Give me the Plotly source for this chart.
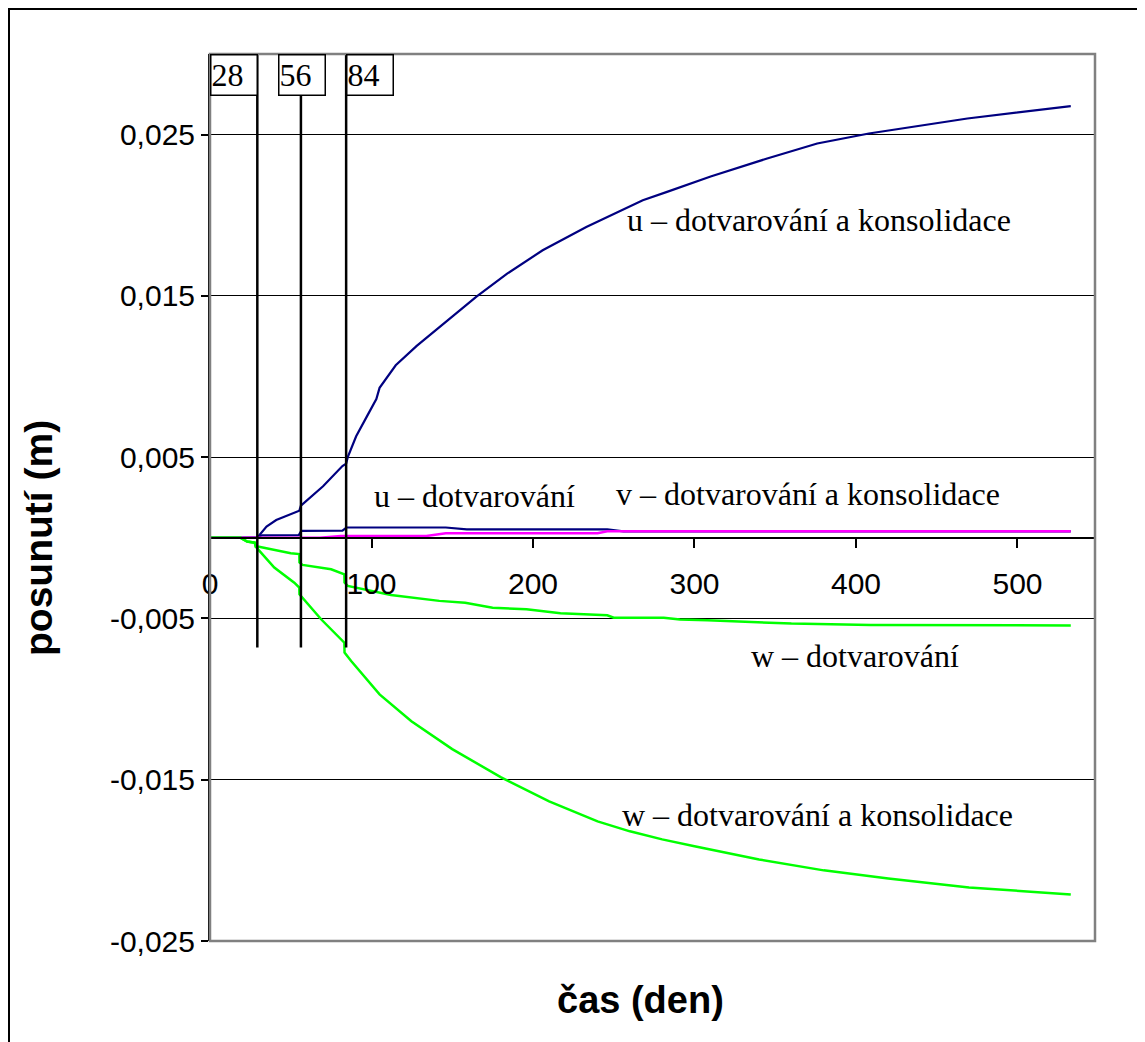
import plotly.graph_objects as go

# ---------------- data ----------------
days_u_total = [0, 28, 29.4, 35, 41, 46, 53, 55.3, 56.3, 70, 82, 84.3, 85.3, 90.5, 97, 103,
                105, 115, 128, 145, 165, 184, 206, 233, 268, 283, 310, 345, 376, 408, 469, 533]
u_total = [0, 0, 0.00002, 0.0007, 0.0011, 0.0013, 0.00157, 0.00168, 0.0020, 0.0032, 0.00445,
           0.0046, 0.0050, 0.0063, 0.0075, 0.0086, 0.0093, 0.0107, 0.0119, 0.0133, 0.01495,
           0.01638, 0.01783, 0.01927, 0.02093, 0.02145, 0.0224, 0.02352, 0.02445, 0.02507,
           0.026, 0.02677]

days_u_creep = [0, 28, 29.4, 32, 55, 56.5, 82, 84.5, 146, 159, 246, 256, 533]
u_creep = [0, 0, 0, 0.00015, 0.00017, 0.00043, 0.00045, 0.00064, 0.00064, 0.00052, 0.00052,
           0.0004, 0.0004]

days_v_total = [0, 20, 68, 81, 134, 146, 240, 246, 533]
v_total = [0, 0, 0, 0.00012, 0.00012, 0.00029, 0.00029, 0.0004, 0.0004]

days_w_creep = [0, 19, 23, 27.7, 28.4, 30.4, 50, 55.3, 55.4, 57.3, 75, 80, 83.2, 83.3, 85.3,
                112, 133, 142, 158, 175, 196, 217, 246, 250, 281, 291, 308, 339, 360, 409,
                461, 533]
w_creep = [0, 0, -0.00023, -0.0003, -0.00056, -0.00056, -0.00095, -0.00101, -0.00153,
           -0.00168, -0.00195, -0.00215, -0.00226, -0.00277, -0.00298, -0.00354, -0.00381,
           -0.00391, -0.00402, -0.00433, -0.00443, -0.00468, -0.0048, -0.00495, -0.00495,
           -0.00507, -0.00511, -0.00522, -0.00532, -0.0054, -0.00542, -0.00543]

days_w_total = [0, 19, 23, 27.7, 28.4, 32.5, 39.8, 52.2, 55.3, 55.4, 68.8, 83.2, 83.3, 87.4,
                97.7, 105, 124.7, 150, 180, 210, 240, 260, 280, 300, 340, 380, 420, 470, 533]
w_total = [0, 0, -0.00023, -0.0003, -0.00056, -0.00101, -0.00184, -0.00278, -0.00309,
           -0.0035, -0.00505, -0.0065, -0.00712, -0.00764, -0.00888, -0.00971, -0.01137,
           -0.0131, -0.01484, -0.01634, -0.01758, -0.0182, -0.0187, -0.01913, -0.01994,
           -0.02062, -0.02112, -0.02168, -0.02211]

# loading stages (label, day of the marker line)
stage_labels = ["28", "56", "84"]
stage_days = [29.3, 56.3, 84.3]
stage_line_y = [0.03, -0.0068]

y_tick_vals = [0.025, 0.015, 0.005, -0.005, -0.015, -0.025]
y_tick_text = ["0,025", "0,015", "0,005", "-0,005", "-0,015", "-0,025"]
x_tick_vals = [0, 100, 200, 300, 400, 500]
x_tick_text = ["0", "100", "200", "300", "400", "500"]

series_labels = [
    "u – dotvarování a konsolidace",
    "u – dotvarování",
    "v – dotvarování a konsolidace",
    "w – dotvarování",
    "w – dotvarování a konsolidace",
]

NAVY = "#000080"
MAGENTA = "#FF00FF"
GREEN = "#00FF00"
SERIF = "Liberation Serif, Times New Roman, serif"
SANS = "Liberation Sans, Arial, sans-serif"

fig = go.Figure()
fig.add_trace(go.Scatter(x=days_u_total, y=u_total, mode="lines",
                         line=dict(color=NAVY, width=2.2), name=series_labels[0]))
fig.add_trace(go.Scatter(x=days_u_creep, y=u_creep, mode="lines",
                         line=dict(color=NAVY, width=2.2), name=series_labels[1]))
fig.add_trace(go.Scatter(x=days_v_total, y=v_total, mode="lines",
                         line=dict(color=MAGENTA, width=2.5), name=series_labels[2]))
fig.add_trace(go.Scatter(x=days_w_creep, y=w_creep, mode="lines",
                         line=dict(color=GREEN, width=2.5), name=series_labels[3]))
fig.add_trace(go.Scatter(x=days_w_total, y=w_total, mode="lines",
                         line=dict(color=GREEN, width=2.5), name=series_labels[4]))

for d in stage_days:
    fig.add_trace(go.Scatter(x=[d, d], y=stage_line_y, mode="lines",
                             line=dict(color="black", width=2.5), showlegend=False,
                             hoverinfo="skip"))

# page body has an 8px margin: figure origin sits at (8, 8) of the screenshot
OFF = 8
W, H = 1145 - OFF, 1042 - OFF
L, T = 210 - OFF, 54 - OFF
R = W - (1095 - OFF)
B = H - (941 - OFF)
pw, ph = W - L - R, H - T - B


def px_x(p):
    return (p - OFF - L) / pw


def px_y(p):
    return (H - B - (p - OFF)) / ph


annotations = []
# stage label boxes
box_left_days = [0, 42.2, 84.3]
for lab, x0 in zip(stage_labels, box_left_days):
    annotations.append(dict(
        x=x0, xref="x", xanchor="left", y=1, yref="paper", yanchor="top",
        text=lab, showarrow=False, align="left", width=45, height=39,
        bordercolor="black", borderwidth=1.5, borderpad=0, bgcolor="white",
        font=dict(family=SERIF, size=32, color="black"),
    ))

# series labels
label_pos = [(257, 0.0197), (100.6, 0.0026), (250.3, 0.0027), (333.5, -0.0073), (254, -0.0172)]
for txt, (lx, ly) in zip(series_labels, label_pos):
    annotations.append(dict(x=lx, y=ly, xref="x", yref="y", xanchor="left", yanchor="middle",
                            text=txt, showarrow=False,
                            font=dict(family=SERIF, size=32, color="black")))

# axis titles
annotations.append(dict(x=px_x(640), y=px_y(1000), xref="paper", yref="paper",
                        xanchor="center", yanchor="middle",
                        text="<b>čas (den)</b>", showarrow=False,
                        font=dict(family=SANS, size=38, color="black")))
annotations.append(dict(x=px_x(38), y=px_y(538), xref="paper", yref="paper",
                        xanchor="center", yanchor="middle",
                        text="<b>posunutí (m)</b>", showarrow=False, textangle=-90,
                        font=dict(family=SANS, size=39, color="black")))

shapes = [
    # plot area border
    dict(type="rect", xref="paper", yref="paper", x0=0, x1=1, y0=0, y1=1,
         line=dict(color="#808080", width=2.5), layer="above"),
    # outer chart frame (right and bottom edges fall outside the window)
    dict(type="rect", xref="paper", yref="paper", x0=px_x(9), x1=px_x(1170),
         y0=px_y(1070), y1=px_y(9), line=dict(color="black", width=2), layer="above"),
]

fig.update_layout(
    width=W, height=H,
    margin=dict(l=L, r=R, t=T, b=B, pad=0),
    paper_bgcolor="white", plot_bgcolor="white",
    showlegend=False,
    annotations=annotations,
    shapes=shapes,
    xaxis=dict(range=[0, 548], anchor="free", position=0.025 / 0.055,
               tickvals=x_tick_vals, ticktext=x_tick_text,
               showgrid=False, zeroline=False, showline=True, linecolor="black",
               linewidth=1.5, ticks="outside", ticklen=9, tickwidth=1.5,
               tickcolor="black", ticklabelstandoff=10,
               tickfont=dict(family=SANS, size=30, color="black")),
    yaxis=dict(range=[-0.025, 0.03], tickvals=y_tick_vals, ticktext=y_tick_text,
               showgrid=True, gridcolor="black", gridwidth=1, zeroline=False,
               showline=True, linecolor="black", linewidth=2, ticks="outside",
               ticklen=7, tickwidth=1.5, tickcolor="black",
               tickfont=dict(family=SANS, size=30, color="black")),
)

fig.write_html("out.html", config={"displayModeBar": False})
